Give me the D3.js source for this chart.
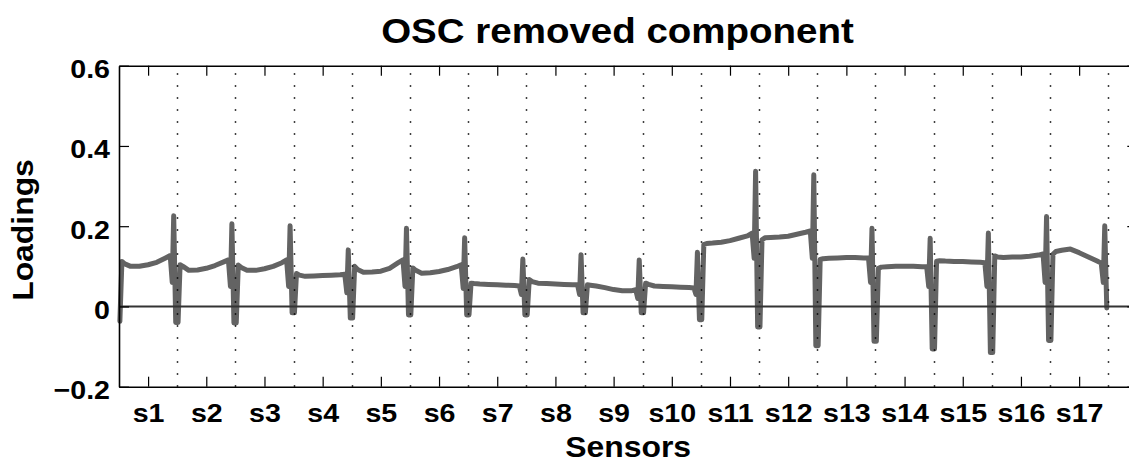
<!DOCTYPE html>
<html>
<head>
<meta charset="utf-8">
<script src="https://cdn.jsdelivr.net/npm/d3@7"></script>
<style>
  html, body { margin: 0; padding: 0; background: #fff; }
  svg { display: block; font-family: "Liberation Sans", Arial, Helvetica, sans-serif; font-weight: bold; }
</style>
</head>
<body>
<svg id="chart" width="1129" height="466"></svg>
<script>
// Sensor names (one block of variables per sensor along the x axis)
const sensors = ["s1","s2","s3","s4","s5","s6","s7","s8","s9","s10","s11","s12","s13","s14","s15","s16","s17"];

// Position of each sampled variable inside its sensor block (in sensor units)
const offsets = [0.015, 0.05, 0.10, 0.20, 0.35, 0.50, 0.65, 0.80, 0.88, 0.915, 0.94, 0.975];

// Loadings of the removed OSC component, one array per sensor
const loadS1  = [-0.037, 0.112, 0.106, 0.100, 0.100, 0.104, 0.110, 0.121, 0.127, 0.060, 0.226, -0.040];
const loadS2  = [-0.040, 0.104, 0.100, 0.090, 0.091, 0.095, 0.102, 0.111, 0.116, 0.050, 0.206, -0.041];
const loadS3  = [-0.041, 0.103, 0.097, 0.090, 0.090, 0.094, 0.100, 0.109, 0.116, 0.050, 0.201, -0.016];
const loadS4  = [-0.016, 0.082, 0.078, 0.075, 0.076, 0.077, 0.078, 0.079, 0.080, 0.034, 0.141, -0.029];
const loadS5  = [-0.029, 0.100, 0.092, 0.085, 0.086, 0.088, 0.095, 0.109, 0.116, 0.050, 0.195, -0.021];
const loadS6  = [-0.021, 0.096, 0.090, 0.083, 0.084, 0.087, 0.092, 0.099, 0.104, 0.045, 0.171, -0.021];
const loadS7  = [-0.021, 0.058, 0.057, 0.056, 0.055, 0.054, 0.053, 0.052, 0.051, 0.030, 0.118, -0.021];
const loadS8  = [-0.021, 0.067, 0.062, 0.058, 0.057, 0.056, 0.055, 0.054, 0.054, 0.030, 0.129, -0.016];
const loadS9  = [-0.016, 0.054, 0.053, 0.051, 0.047, 0.042, 0.039, 0.039, 0.042, 0.020, 0.116, -0.016];
const loadS10 = [-0.016, 0.058, 0.055, 0.051, 0.050, 0.049, 0.048, 0.047, 0.046, 0.030, 0.135, -0.033];
const loadS11 = [-0.033, 0.154, 0.157, 0.158, 0.160, 0.164, 0.170, 0.176, 0.183, 0.120, 0.337, -0.051];
const loadS12 = [-0.051, 0.166, 0.171, 0.172, 0.173, 0.175, 0.180, 0.185, 0.188, 0.120, 0.328, -0.098];
const loadS13 = [-0.098, 0.117, 0.119, 0.120, 0.121, 0.122, 0.122, 0.121, 0.121, 0.060, 0.195, -0.087];
const loadS14 = [-0.087, 0.095, 0.098, 0.099, 0.100, 0.100, 0.100, 0.099, 0.099, 0.050, 0.170, -0.106];
const loadS15 = [-0.106, 0.113, 0.114, 0.113, 0.112, 0.112, 0.111, 0.110, 0.109, 0.050, 0.183, -0.115];
const loadS16 = [-0.115, 0.126, 0.123, 0.122, 0.123, 0.123, 0.125, 0.128, 0.131, 0.060, 0.224, -0.085];
const loadS17 = [-0.085, 0.130, 0.137, 0.140, 0.143, 0.134, 0.124, 0.114, 0.108, 0.060, 0.201, -0.004];

const loadingsBySensor = [loadS1, loadS2, loadS3, loadS4, loadS5, loadS6, loadS7, loadS8, loadS9,
                          loadS10, loadS11, loadS12, loadS13, loadS14, loadS15, loadS16, loadS17];

// Y axis ticks and labels
const yTicks = [-0.2, 0, 0.2, 0.4, 0.6];
const yTickLabels = ["\u22120.2", "0", "0.2", "0.4", "0.6"];

const titleText = "OSC removed component";
const xLabelText = "Sensors";
const yLabelText = "Loadings";

// ---- layout ----
const svg = d3.select("#chart");
const plotLeft = 119, plotTop = 65.7, plotBottom = 386.7;
const sensorWidth = 58.19;
const xMax = 17.5;
const stretch = 1.1;   // wide lettering

const x = d3.scaleLinear().domain([0, xMax]).range([plotLeft, plotLeft + xMax * sensorWidth]);
const y = d3.scaleLinear().domain([-0.2, 0.6]).range([plotBottom, plotTop]);

// flatten into (position, value) points
const points = [];
loadingsBySensor.forEach((vals, i) => {
  vals.forEach((v, j) => points.push([i + offsets[j], v]));
});

const plot = svg.append("g");

// loadings curve
plot.append("path")
  .datum(points)
  .attr("fill", "none")
  .attr("stroke", "#636363")
  .attr("stroke-width", 5)
  .attr("stroke-linejoin", "round")
  .attr("stroke-linecap", "round")
  .attr("d", d3.line().x(d => x(d[0])).y(d => y(d[1])));

// dotted separators between sensor blocks
const boundaries = d3.range(1, sensors.length + 1);
plot.selectAll("line.sep")
  .data(boundaries)
  .join("line")
  .attr("class", "sep")
  .attr("x1", d => Math.round(x(d)) + 0.5)
  .attr("x2", d => Math.round(x(d)) + 0.5)
  .attr("y1", y(-0.2))
  .attr("y2", y(0.6))
  .attr("stroke", "#000")
  .attr("stroke-width", 1.5)
  .attr("stroke-dasharray", "1.5 10.5");

// zero reference line
plot.append("line")
  .attr("x1", x(0)).attr("x2", x(xMax))
  .attr("y1", y(0)).attr("y2", y(0))
  .attr("stroke", "#333")
  .attr("stroke-width", 2);

// ---- axes ----
const fontTick = 26;
const centers = sensors.map((s, i) => i + 0.5);

const xAxis = d3.axisBottom(x)
  .tickValues(centers)
  .tickFormat((d, i) => sensors[i])
  .tickSize(-10)
  .tickSizeOuter(0)
  .tickPadding(17);

const gx = svg.append("g")
  .attr("transform", `translate(0,${plotBottom})`)
  .call(xAxis);

const xTop = d3.axisTop(x).tickValues(centers).tickFormat("").tickSize(-10).tickSizeOuter(0);
const gxTop = svg.append("g").attr("transform", `translate(0,${plotTop})`).call(xTop);

const yAxis = d3.axisLeft(y)
  .tickValues(yTicks)
  .tickFormat((d, i) => yTickLabels[i])
  .tickSize(-10)
  .tickSizeOuter(0)
  .tickPadding(9);

const gy = svg.append("g")
  .attr("transform", `translate(${plotLeft},0)`)
  .call(yAxis);

const yRight = d3.axisRight(y).tickValues(yTicks).tickFormat("").tickSize(-10).tickSizeOuter(0);
const gyRight = svg.append("g").attr("transform", `translate(${x(xMax)},0)`).call(yRight);

[gx, gxTop, gy, gyRight].forEach(g => {
  g.select(".domain").attr("stroke", "#000").attr("stroke-width", 1.6);
  g.selectAll(".tick line").attr("stroke", "#000").attr("stroke-width", 1.2);
  g.selectAll(".tick text")
    .attr("fill", "#000")
    .style("font-family", "'Liberation Sans', Arial, Helvetica, sans-serif")
    .style("font-weight", "bold")
    .style("font-size", fontTick + "px");
});
gx.selectAll(".tick text").attr("transform", `scale(${stretch},1)`);
gy.selectAll(".tick text")
  .attr("dy", "0.46em")
  .attr("x", -9 / stretch)
  .attr("transform", `scale(${stretch},1)`);

// ---- labels ----
const midX = (x(0) + x(xMax)) / 2;

svg.append("text")
  .attr("transform", `translate(617.5,43) scale(${stretch},1)`)
  .attr("text-anchor", "middle")
  .style("font-size", "35px")
  .text(titleText);

svg.append("text")
  .attr("transform", `translate(${midX},457) scale(${stretch},1)`)
  .attr("text-anchor", "middle")
  .style("font-size", "29px")
  .text(xLabelText);

svg.append("text")
  .attr("transform", `translate(33,230) rotate(-90) scale(${stretch},1)`)
  .attr("text-anchor", "middle")
  .style("font-size", "29px")
  .text(yLabelText);
</script>
</body>
</html>
